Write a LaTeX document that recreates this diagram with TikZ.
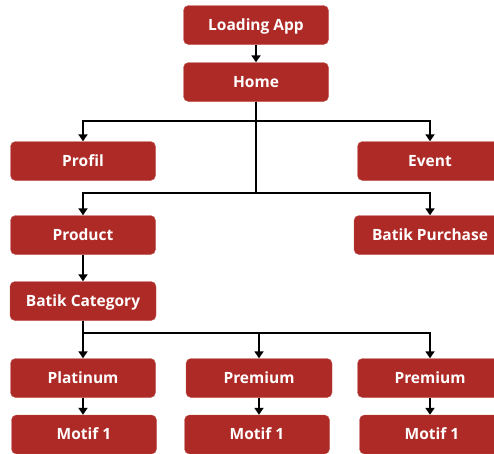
\documentclass[tikz,border=0pt]{standalone}
\usepackage{fontspec}
\setmainfont{Open Sans}
\usetikzlibrary{arrows.meta}
\definecolor{batikred}{RGB}{174,42,38}

\begin{document}
\begin{tikzpicture}[x=1pt,y=-1pt,
		box/.style={draw=batikred!80!white, fill=batikred, rounded corners=5pt, text=white,
			font=\bfseries\fontsize{15.5}{17}\selectfont, minimum width=145pt, minimum height=39pt, inner sep=0pt,
			text height=10pt, text depth=0pt},
		link/.style={line width=2pt, -{Triangle[width=9pt,length=7pt]}}]
		\useasboundingbox (0,0) rectangle (494,453);
		\node (loading) at (256,25) [box] {Loading App};
		\node (home) at (256,82) [box] {Home};
		\node (profil) at (83,161) [box] {Profil};
		\node (event) at (430,161) [box] {Event};
		\node (product) at (83,235) [box] {Product};
		\node (purchase) at (430,235) [box, minimum width=152pt] {Batik Purchase};
		\node (category) at (83,301) [box, minimum width=146pt] {Batik Category};
		\node (platinum) at (83,378) [box] {Platinum};
		\node (premium1) at (259,378) [box, minimum width=146pt] {Premium};
		\node (premium2) at (430,378) [box] {Premium};
		\node (motif1) at (84,434.5) [box] {Motif 1};
		\node (motif2) at (257,434.5) [box] {Motif 1};
		\node (motif3) at (432,434.5) [box] {Motif 1};
		% main menu
		\draw[link] (loading) -- (home);
		\draw[link] (home.south) -- ++(0,19) -| (profil.north);
		\draw[link] (home.south) -- ++(0,19) -| (event.north);
		\draw[link] (home.south) -- ++(0,91) -| (product.north);
		\draw[link] (home.south) -- ++(0,91) -| (purchase.north);
		% categories
		\draw[link] (product) -- (category);
		\draw[link] (category.south) -- ++(0,12) -| (platinum.north);
		\draw[link] (category.south) -- ++(0,12) -| (premium1.north);
		\draw[link] (category.south) -- ++(0,12) -| (premium2.north);
		\draw[link] (platinum) -- (platinum|-motif1.north);
		\draw[link] (premium1) -- (premium1|-motif2.north);
		\draw[link] (premium2) -- (premium2|-motif3.north);
	\end{tikzpicture}
\end{document}
